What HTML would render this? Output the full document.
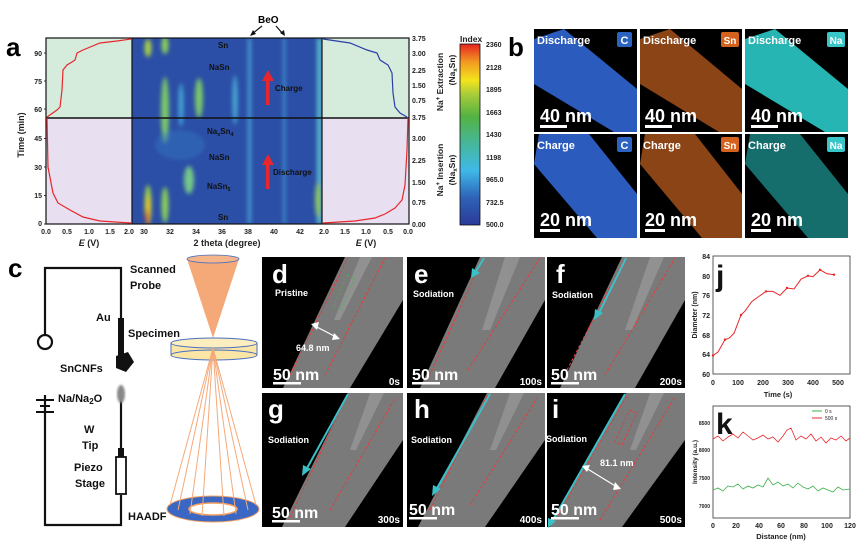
<!DOCTYPE html>
<html><head><meta charset="utf-8"><style>
html,body{margin:0;padding:0;background:#fff;}
svg{display:block;font-family:"Liberation Sans",Arial,sans-serif;}
.t{font-size:7px;font-weight:bold;fill:#222;}
.b{font-weight:bold;}
</style></head><body>
<svg width="866" height="541" viewBox="0 0 866 541" xmlns="http://www.w3.org/2000/svg">
<defs>
<filter id="blur3"><feGaussianBlur stdDeviation="2"/></filter>
<filter id="blur1"><feGaussianBlur stdDeviation="1"/></filter>
<linearGradient id="cb" x1="0" y1="1" x2="0" y2="0">
<stop offset="0" stop-color="#2b3a97"/><stop offset="0.15" stop-color="#2e62b8"/>
<stop offset="0.3" stop-color="#3fb8e8"/><stop offset="0.45" stop-color="#46b79a"/>
<stop offset="0.6" stop-color="#54b242"/><stop offset="0.72" stop-color="#a7cc3a"/>
<stop offset="0.8" stop-color="#f3e41c"/><stop offset="0.9" stop-color="#f39a22"/>
<stop offset="1" stop-color="#e52420"/></linearGradient>
<clipPath id="hmc"><rect x="132" y="38" width="190" height="186"/></clipPath>
</defs>

<!-- panel a -->
<text x="6" y="56" class="b" font-size="26">a</text>
<rect x="46" y="38" width="86" height="80" fill="#d5ebdc"/>
<rect x="46" y="118" width="86" height="106" fill="#e8dff0"/>
<rect x="322" y="38" width="87" height="80" fill="#d5ebdc"/>
<rect x="322" y="118" width="87" height="106" fill="#e8dff0"/>
<rect x="132" y="38" width="190" height="186" fill="#2b4ea6"/>
<g clip-path="url(#hmc)" filter="url(#blur3)">
<ellipse cx="148" cy="205" rx="3.5" ry="20" fill="#9fd24a"/>
<ellipse cx="148" cy="210" rx="2.2" ry="14" fill="#f0c020"/>
<ellipse cx="147" cy="218" rx="1.3" ry="8" fill="#e03020"/>
<ellipse cx="148" cy="48" rx="3.5" ry="9" fill="#a8d048"/>
<ellipse cx="165" cy="45" rx="3.5" ry="9" fill="#8ccf5a"/>
<ellipse cx="165" cy="110" rx="4" ry="33" fill="#7cc86a"/>
<ellipse cx="165" cy="205" rx="3.5" ry="18" fill="#8ccf5a"/>
<ellipse cx="181" cy="105" rx="2.5" ry="22" fill="#45a8d8"/>
<ellipse cx="199" cy="98" rx="4" ry="20" fill="#7cc86a"/>
<ellipse cx="189" cy="180" rx="5" ry="14" fill="#74c78a"/>
<ellipse cx="235" cy="100" rx="2.5" ry="25" fill="#4aaed8"/>
<rect x="248" y="38" width="3" height="186" fill="#4aa8dc"/>
<rect x="283" y="38" width="2.5" height="186" fill="#3f98d2"/>
<rect x="317" y="38" width="5" height="186" fill="#5bbcd0"/>
<ellipse cx="318" cy="200" rx="3" ry="18" fill="#8cc860"/>
<ellipse cx="180" cy="145" rx="25" ry="15" fill="#3479c2" opacity="0.45"/>
</g>
<rect x="46" y="38" width="363" height="186" fill="none" stroke="#111" stroke-width="1.2"/>
<line x1="132" y1="38" x2="132" y2="224" stroke="#111" stroke-width="1.2"/>
<line x1="322" y1="38" x2="322" y2="224" stroke="#111" stroke-width="1.2"/>
<line x1="46" y1="118" x2="409" y2="118" stroke="#111" stroke-width="1.4"/>
<polyline fill="none" stroke="#e8262b" stroke-width="1.2" points="47,117 57,110 60,107 62,90 63,70 67,65 72,62 75,60 77,53 83,50 100,43 117,41 131,39"/>
<polyline fill="none" stroke="#e8262b" stroke-width="1.2" points="47,118 48,167 53,193 58,203 70,210 83,217 100,221 131,223"/>
<polyline fill="none" stroke="#2c3fa8" stroke-width="1.2" points="323,39 350,43 367,50 377,53 380,60 388,65 392,73 393,93 395,107 400,113 407,117"/>
<polyline fill="none" stroke="#e8262b" stroke-width="1.2" points="323,223 355,221 375,218 385,214 395,208 402,200 405,185 407,150 408,118"/>
<g class="b" font-size="8" fill="#111">
<text x="218" y="48">Sn</text><text x="209" y="70">NaSn</text><text x="275" y="91">Charge</text>
<text x="207" y="134">Na<tspan font-size="5.5" dy="2">x</tspan><tspan dy="-2">Sn</tspan><tspan font-size="5.5" dy="2">4</tspan></text>
<text x="209" y="160">NaSn</text><text x="273" y="175">Discharge</text>
<text x="207" y="189">NaSn<tspan font-size="5.5" dy="2">5</tspan></text><text x="218" y="220">Sn</text>
</g>
<rect x="266" y="80" width="3.5" height="25" fill="#e8262b"/><polygon points="262,81 274,81 268,70" fill="#e8262b"/>
<rect x="266" y="164" width="3.5" height="25" fill="#e8262b"/><polygon points="262,165 274,165 268,154" fill="#e8262b"/>
<text x="258" y="23" class="b" font-size="10">BeO</text>
<line x1="262" y1="26" x2="252" y2="34" stroke="#111" stroke-width="1.2"/><polygon points="250,36 253,30 256,34" fill="#111"/>
<line x1="276" y1="26" x2="283" y2="34" stroke="#111" stroke-width="1.2"/><polygon points="285,36 280,33 284,30" fill="#111"/>
<g class="t" text-anchor="end">
<text x="42" y="226">0</text><text x="42" y="198">15</text><text x="42" y="170">30</text><text x="42" y="141">45</text>
<text x="42" y="112">60</text><text x="42" y="84">75</text><text x="42" y="56">90</text></g>
<g stroke="#111" stroke-width="0.8">
<line x1="44" y1="224" x2="46" y2="224"/><line x1="44" y1="195.5" x2="46" y2="195.5"/><line x1="44" y1="167" x2="46" y2="167"/><line x1="44" y1="138.5" x2="46" y2="138.5"/><line x1="44" y1="109" x2="46" y2="109"/><line x1="44" y1="81" x2="46" y2="81"/><line x1="44" y1="53" x2="46" y2="53"/></g>
<text transform="translate(24,135) rotate(-90)" text-anchor="middle" class="b" font-size="9" fill="#222">Time (min)</text>
<g class="t" text-anchor="middle">
<text x="46" y="234">0.0</text><text x="67" y="234">0.5</text><text x="89" y="234">1.0</text><text x="110" y="234">1.5</text><text x="129" y="234">2.0</text>
<text x="144" y="234">30</text><text x="170" y="234">32</text><text x="196" y="234">34</text><text x="222" y="234">36</text><text x="248" y="234">38</text><text x="274" y="234">40</text><text x="300" y="234">42</text>
<text x="324" y="234">2.0</text><text x="345" y="234">1.5</text><text x="366" y="234">1.0</text><text x="388" y="234">0.5</text><text x="408" y="234">0.0</text></g>
<g class="b" font-size="9" fill="#222" text-anchor="middle">
<text x="89" y="246"><tspan font-style="italic">E</tspan> (V)</text>
<text x="227" y="246">2 theta (degree)</text>
<text x="366" y="246"><tspan font-style="italic">E</tspan> (V)</text></g>
<g class="t">
<text x="412" y="41">3.75</text><text x="412" y="56">3.00</text><text x="412" y="73">2.25</text><text x="412" y="88">1.50</text><text x="412" y="103">0.75</text><text x="412" y="120">3.75</text>
<text x="412" y="141">3.00</text><text x="412" y="163">2.25</text><text x="412" y="185">1.50</text><text x="412" y="205">0.75</text><text x="412" y="227">0.00</text></g>
<text transform="translate(443,82) rotate(-90)" text-anchor="middle" class="b" font-size="8.5" fill="#222">Na<tspan font-size="6" dy="-3">+</tspan><tspan dy="3"> Extraction</tspan></text>
<text transform="translate(455,70) rotate(-90)" text-anchor="middle" class="b" font-size="8.5" fill="#222">(Na<tspan font-size="6" dy="2">x</tspan><tspan dy="-2">Sn)</tspan></text>
<text transform="translate(443,170) rotate(-90)" text-anchor="middle" class="b" font-size="8.5" fill="#222">Na<tspan font-size="6" dy="-3">+</tspan><tspan dy="3"> Insertion</tspan></text>
<text transform="translate(455,170) rotate(-90)" text-anchor="middle" class="b" font-size="8.5" fill="#222">(Na<tspan font-size="6" dy="2">x</tspan><tspan dy="-2">Sn)</tspan></text>
<text x="460" y="42" class="b" font-size="8.5" fill="#222">Index</text>
<rect x="460" y="44" width="20" height="181" fill="url(#cb)" stroke="#111" stroke-width="0.8"/>
<g class="t"><text x="486" y="47">2360</text><text x="486" y="70">2128</text><text x="486" y="92">1895</text><text x="486" y="115">1663</text><text x="486" y="137">1430</text><text x="486" y="160">1198</text><text x="486" y="182">965.0</text><text x="486" y="205">732.5</text><text x="486" y="227">500.0</text></g>

<!-- panel b -->
<text x="508" y="56" class="b" font-size="26">b</text>
<rect x="534" y="29" width="103" height="103" fill="#000"/>
<polygon points="534,39 564,29 637,89 637,132 614,132 534,84" fill="#2a5bbd"/>
<rect x="640" y="29" width="102" height="103" fill="#000"/>
<polygon points="640,39 670,29 742,89 742,132 719,132 640,84" fill="#8a4416"/>
<rect x="745" y="29" width="103" height="103" fill="#000"/>
<polygon points="745,39 775,29 848,89 848,132 825,132 745,84" fill="#26b5b2"/>
<rect x="534" y="134" width="103" height="104" fill="#000"/>
<polygon points="539,134 589,134 637,194 637,238 597,238 534,164" fill="#2a5bbd"/>
<rect x="640" y="134" width="102" height="104" fill="#000"/>
<polygon points="645,134 695,134 742,194 742,238 702,238 640,164" fill="#8a4416"/>
<rect x="745" y="134" width="103" height="104" fill="#000"/>
<polygon points="750,134 800,134 848,194 848,238 808,238 745,164" fill="#156d6c"/>
<g fill="#fff" class="b">
<text x="537" y="44" font-size="11">Discharge</text><text x="643" y="44" font-size="11">Discharge</text><text x="748" y="44" font-size="11">Discharge</text>
<text x="537" y="149" font-size="11">Charge</text><text x="643" y="149" font-size="11">Charge</text><text x="748" y="149" font-size="11">Charge</text>
<text x="540" y="122" font-size="18">40 nm</text><text x="645" y="122" font-size="18">40 nm</text><text x="751" y="122" font-size="18">40 nm</text>
<text x="540" y="226" font-size="18">20 nm</text><text x="645" y="226" font-size="18">20 nm</text><text x="751" y="226" font-size="18">20 nm</text>
</g>
<g fill="#fff"><rect x="540" y="125" width="27" height="3"/><rect x="645" y="125" width="27" height="3"/><rect x="751" y="125" width="27" height="3"/>
<rect x="540" y="229" width="20" height="3"/><rect x="645" y="229" width="20" height="3"/><rect x="751" y="229" width="20" height="3"/></g>
<rect x="617" y="32" width="15" height="15" rx="2" fill="#2c63c0"/><text x="624.5" y="44" text-anchor="middle" class="b" font-size="11" fill="#fff">C</text>
<rect x="721" y="32" width="18" height="15" rx="2" fill="#d4621e"/><text x="730" y="44" text-anchor="middle" class="b" font-size="10" fill="#fff">Sn</text>
<rect x="827" y="32" width="18" height="15" rx="2" fill="#38c6c8"/><text x="836" y="44" text-anchor="middle" class="b" font-size="10" fill="#fff">Na</text>
<rect x="617" y="137" width="15" height="15" rx="2" fill="#2c63c0"/><text x="624.5" y="149" text-anchor="middle" class="b" font-size="11" fill="#fff">C</text>
<rect x="721" y="137" width="18" height="15" rx="2" fill="#d4621e"/><text x="730" y="149" text-anchor="middle" class="b" font-size="10" fill="#fff">Sn</text>
<rect x="827" y="137" width="18" height="15" rx="2" fill="#38c6c8"/><text x="836" y="149" text-anchor="middle" class="b" font-size="10" fill="#fff">Na</text>

<!-- panel c -->
<text x="8" y="277" class="b" font-size="26">c</text>
<g stroke="#111" stroke-width="2.2" fill="none">
<polyline points="45,335 45,268 121,268 121,320"/>
<circle cx="45" cy="342" r="7" fill="#fff"/>
<polyline points="45,395 45,525 121,525 121,495"/>
<line x1="121" y1="395" x2="121" y2="456"/>
</g>
<rect x="118" y="318" width="6" height="40" fill="#111"/>
<polygon points="116,356 128,352 134,362 126,372 116,368" fill="#111"/>
<line x1="36" y1="400" x2="54" y2="400" stroke="#111" stroke-width="2"/>
<line x1="40" y1="406" x2="50" y2="406" stroke="#111" stroke-width="2"/>
<line x1="36" y1="412" x2="54" y2="412" stroke="#111" stroke-width="2"/>
<ellipse cx="121" cy="394" rx="4" ry="9" fill="#888" filter="url(#blur1)"/>
<rect x="118" y="448" width="6" height="10" fill="#111"/>
<rect x="116" y="457" width="10" height="37" fill="#fff" stroke="#111" stroke-width="1.8"/>
<g class="b" font-size="11" fill="#111">
<text x="130" y="273">Scanned</text><text x="130" y="289">Probe</text>
<text x="96" y="321">Au</text><text x="128" y="337">Specimen</text>
<text x="60" y="372">SnCNFs</text>
<text x="58" y="402">Na/Na<tspan font-size="8" dy="2">2</tspan><tspan dy="-2">O</tspan></text>
<text x="84" y="433">W</text><text x="82" y="449">Tip</text>
<text x="74" y="471">Piezo</text><text x="75" y="487">Stage</text>
<text x="128" y="520">HAADF</text>
</g>
<polygon points="187,259 239,259 213,338" fill="#f5a979"/>
<ellipse cx="213" cy="259" rx="26" ry="4" fill="#f5b48a" stroke="#4a6fc0" stroke-width="0.8"/>
<rect x="171" y="343" width="86" height="12" fill="#fbe6a6"/>
<ellipse cx="214" cy="355" rx="43" ry="5" fill="#fbe6a6" stroke="#4a6fc0" stroke-width="1"/>
<ellipse cx="214" cy="343" rx="43" ry="5" fill="#fdeec0" stroke="#4a6fc0" stroke-width="1"/>
<line x1="171" y1="343" x2="171" y2="355" stroke="#4a6fc0"/><line x1="257" y1="343" x2="257" y2="355" stroke="#4a6fc0"/>
<ellipse cx="213" cy="509" rx="46" ry="13" fill="#3a66c4" stroke="#f5a060" stroke-width="1"/>
<ellipse cx="213" cy="509" rx="24" ry="6" fill="#fff" stroke="#f5a060" stroke-width="1.5"/>
<g stroke="#f5a979" stroke-width="1" fill="none">
<line x1="213" y1="348" x2="170" y2="505"/><line x1="213" y1="348" x2="178" y2="510"/><line x1="213" y1="348" x2="190" y2="514"/><line x1="213" y1="348" x2="202" y2="516"/>
<line x1="213" y1="348" x2="224" y2="516"/><line x1="213" y1="348" x2="236" y2="514"/><line x1="213" y1="348" x2="248" y2="510"/><line x1="213" y1="348" x2="256" y2="505"/></g>

<!-- TEM panels -->
<rect x="262" y="257" width="141" height="131" fill="#000"/>
<rect x="407" y="257" width="138" height="131" fill="#000"/>
<rect x="547" y="257" width="138" height="131" fill="#000"/>
<rect x="262" y="393" width="141" height="134" fill="#000"/>
<rect x="407" y="393" width="138" height="134" fill="#000"/>
<rect x="547" y="393" width="138" height="134" fill="#000"/>
<g fill="#7a7a7a">
<polygon points="283,388 345,257 403,257 403,300 350,388"/>
<polygon points="420,388 480,257 545,257 545,300 495,388"/>
<polygon points="560,388 622,257 685,257 685,300 635,388"/>
<polygon points="282,527 348,393 403,393 403,440 345,527"/>
<polygon points="418,527 487,393 545,393 545,440 485,527"/>
<polygon points="550,527 626,393 685,393 685,440 622,527"/>
</g>
<g fill="#a0a0a0" opacity="0.6">
<polygon points="360,257 372,257 340,320 334,320"/>
<polygon points="505,257 520,257 490,330 482,330"/>
<polygon points="650,257 664,257 632,330 625,330"/>
<polygon points="370,393 384,393 356,450 350,450"/>
<polygon points="510,393 524,393 496,450 490,450"/>
<polygon points="650,393 664,393 636,450 630,450"/>
</g>
<g fill="none" stroke="#e63b3b" stroke-width="1" stroke-dasharray="3,2">
<line x1="285" y1="385" x2="348" y2="258"/><line x1="325" y1="375" x2="385" y2="258"/>
<line x1="425" y1="385" x2="483" y2="258"/><line x1="468" y1="370" x2="540" y2="258"/>
<line x1="567" y1="370" x2="625" y2="258"/><line x1="605" y1="375" x2="675" y2="258"/>
<line x1="288" y1="522" x2="348" y2="394"/><line x1="330" y1="510" x2="396" y2="397"/>
<line x1="430" y1="510" x2="488" y2="394"/><line x1="470" y1="505" x2="538" y2="397"/>
<line x1="555" y1="520" x2="628" y2="394"/><line x1="600" y1="520" x2="675" y2="397"/>
<rect x="622" y="410" width="8" height="35" transform="rotate(25 626 427)"/>
</g>
<rect x="340" y="275" width="8" height="35" fill="none" stroke="#4caf50" stroke-width="0.8" stroke-dasharray="2,2" transform="rotate(25 344 292)"/>
<g stroke="#3cc0c8" stroke-width="2" fill="none">
<line x1="484" y1="258" x2="475" y2="273"/><line x1="626" y1="258" x2="598" y2="315"/>
<line x1="348" y1="394" x2="306" y2="470"/><line x1="490" y1="394" x2="436" y2="490"/><line x1="625" y1="394" x2="550" y2="525"/></g>
<g fill="#3cc0c8">
<polygon points="471,278 472,268 480,273"/><polygon points="594,320 595,309 603,313"/>
<polygon points="302,476 303,465 311,469"/><polygon points="432,496 433,485 441,489"/><polygon points="548,528 548,518 556,521"/></g>
<g stroke="#fff" stroke-width="1.2"><line x1="315" y1="326" x2="336" y2="337"/><line x1="586" y1="468" x2="617" y2="487"/></g>
<g fill="#fff"><polygon points="311,324 319,322 317,330"/><polygon points="340,339 332,340 334,333"/><polygon points="582,466 590,465 587,472"/><polygon points="621,489 613,490 615,482"/></g>
<g fill="#fff" class="b">
<text x="272" y="283" font-size="26">d</text><text x="414" y="283" font-size="26">e</text><text x="556" y="283" font-size="26">f</text>
<text x="268" y="418" font-size="26">g</text><text x="414" y="418" font-size="26">h</text><text x="552" y="418" font-size="26">i</text>
<text x="275" y="296" font-size="9">Pristine</text><text x="413" y="297" font-size="9">Sodiation</text><text x="552" y="298" font-size="9">Sodiation</text>
<text x="268" y="443" font-size="9">Sodiation</text><text x="411" y="443" font-size="9">Sodiation</text><text x="546" y="442" font-size="9">Sodiation</text>
<text x="296" y="351" font-size="9">64.8 nm</text><text x="600" y="466" font-size="9">81.1 nm</text>
<text x="273" y="380" font-size="16">50 nm</text><text x="412" y="380" font-size="16">50 nm</text><text x="551" y="380" font-size="16">50 nm</text>
<text x="272" y="518" font-size="16">50 nm</text><text x="409" y="515" font-size="16">50 nm</text><text x="551" y="515" font-size="16">50 nm</text>
<g font-size="10" text-anchor="end"><text x="400" y="385">0s</text><text x="542" y="385">100s</text><text x="682" y="385">200s</text>
<text x="400" y="523">300s</text><text x="542" y="523">400s</text><text x="682" y="523">500s</text></g>
</g>
<g fill="#fff"><rect x="273" y="382" width="28" height="2.5"/><rect x="412" y="382" width="28" height="2.5"/><rect x="551" y="382" width="28" height="2.5"/>
<rect x="272" y="520" width="28" height="2.5"/><rect x="409" y="517" width="28" height="2.5"/><rect x="551" y="517" width="28" height="2.5"/></g>

<!-- panel j -->
<rect x="713" y="256" width="137" height="118" fill="none" stroke="#333" stroke-width="0.8"/>
<text x="716" y="286" class="b" font-size="30" fill="#111">j</text>
<polyline fill="none" stroke="#e8262b" stroke-width="1" points="713,355.5 718,352 725,339.6 729,338.2 734,333.3 741,315 745,311.1 752,301.3 759,296.4 766,291.4 773,291.4 780,295.4 787,288 794,289 801,279.2 808,275.8 813,276.7 820,269.8 827,273.8 834,274.7"/>
<g fill="#e8262b"><circle cx="713" cy="355.5" r="1.2"/><circle cx="725" cy="339.6" r="1.2"/><circle cx="741" cy="315" r="1.2"/><circle cx="766" cy="291.4" r="1.2"/><circle cx="787" cy="288" r="1.2"/><circle cx="808" cy="275.8" r="1.2"/><circle cx="820" cy="269.8" r="1.2"/><circle cx="834" cy="274.7" r="1.2"/></g>
<g class="t" text-anchor="end"><text x="710" y="259">84</text><text x="710" y="279">80</text><text x="710" y="298">76</text><text x="710" y="318">72</text><text x="710" y="338">68</text><text x="710" y="357">64</text><text x="710" y="377">60</text></g>
<g class="t" text-anchor="middle"><text x="713" y="385">0</text><text x="738" y="385">100</text><text x="763" y="385">200</text><text x="788" y="385">300</text><text x="813" y="385">400</text><text x="838" y="385">500</text></g>
<text x="778" y="397" text-anchor="middle" class="b" font-size="7.5" fill="#222">Time (s)</text>
<text transform="translate(697,315) rotate(-90)" text-anchor="middle" class="b" font-size="7" fill="#222">Diameter (nm)</text>

<!-- panel k -->
<rect x="713" y="406" width="137" height="112" fill="none" stroke="#333" stroke-width="0.8"/>
<text x="716" y="434" class="b" font-size="30" fill="#111">k</text>
<polyline fill="none" stroke="#e8262b" stroke-width="0.8" points="713,439 718,436 723,441 728,437 733,434 738,438 743,432 748,436 753,440 758,438 763,435 768,439 773,437 778,442 783,436 787,430 791,428 796,440 801,436 806,439 811,434 816,441 821,437 826,443 831,438 836,440 841,436 846,441 850,438"/>
<polyline fill="none" stroke="#3db04a" stroke-width="0.8" points="713,490 718,488 723,491 728,486 733,487 738,484 743,489 748,486 753,488 758,485 763,487 768,478 773,485 778,482 783,486 788,484 793,488 798,483 803,487 808,489 813,486 818,491 823,488 828,490 833,492 838,487 843,490 850,489"/>
<line x1="812" y1="411" x2="822" y2="411" stroke="#3db04a"/><text x="825" y="413" font-size="5" fill="#222">0 s</text>
<line x1="812" y1="418" x2="822" y2="418" stroke="#e8262b"/><text x="825" y="420" font-size="5" fill="#222">500 s</text>
<g font-size="5" font-weight="bold" fill="#222" text-anchor="end"><text x="710" y="425">8500</text><text x="710" y="452">8000</text><text x="710" y="480">7500</text><text x="710" y="508">7000</text></g>
<g class="t" text-anchor="middle"><text x="713" y="528">0</text><text x="736" y="528">20</text><text x="759" y="528">40</text><text x="781" y="528">60</text><text x="804" y="528">80</text><text x="827" y="528">100</text><text x="850" y="528">120</text></g>
<text x="781" y="539" text-anchor="middle" class="b" font-size="7.5" fill="#222">Distance (nm)</text>
<text transform="translate(697,462) rotate(-90)" text-anchor="middle" class="b" font-size="6.5" fill="#222">Intensity (a.u.)</text>
</svg>
</body></html>
